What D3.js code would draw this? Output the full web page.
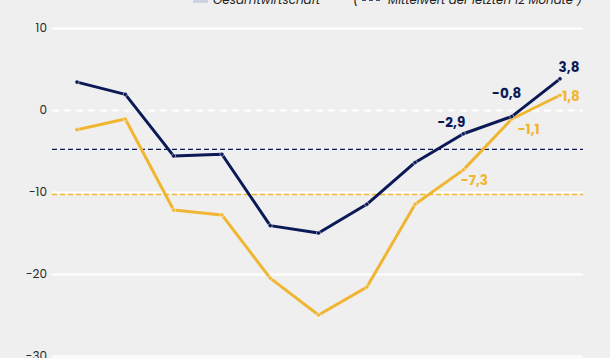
<!DOCTYPE html>
<html><head><meta charset="utf-8">
<script src="https://cdn.jsdelivr.net/npm/d3@7"></script>
<style>
html,body{margin:0;padding:0;background:#efefef;}
svg{display:block;font-family:Poppins,"Inter","Noto Sans",sans-serif;}
</style></head>
<body><svg id="c" width="610" height="358"></svg>
<script>
const categories = ["M1","M2","M3","M4","M5","M6","M7","M8","M9","M10","M11"];
const gesamtwirtschaft = [3.4, 1.9, -5.6, -5.4, -14.1, -15.0, -11.5, -6.4, -2.9, -0.8, 3.8];
const zweiteReihe = [-2.4, -1.1, -12.2, -12.8, -20.5, -25.0, -21.6, -11.5, -7.3, -1.1, 1.8];
const mittelwertBlau = -4.8;
const mittelwertGelb = -10.3;
const yTicks = [10, 0, -10, -20, -30];
const legendLabels = ["Gesamtwirtschaft", "Mittelwert der letzten 12 Monate )"];

const NAVY = "#0b1a57", YELLOW = "#f0b632";
const svg = d3.select("#c");
const x = d3.scalePoint().domain(categories).range([77, 560]);
const y = d3.scaleLinear().domain([-30, 10]).range([356, 28]);
const X0 = 52, X1 = 583;

// grid
const yAxis = d3.axisLeft(y).tickValues(yTicks).tickSize(0).tickPadding(0).tickFormat(d => String(d));
const gAxis = svg.append("g").attr("transform", `translate(${X0},0)`).call(yAxis);
gAxis.select(".domain").remove();
gAxis.selectAll("text").attr("x", -5).attr("font-size", 12).attr("fill", "#2a2a2a")
  .attr("font-family", "Poppins, Inter, 'Noto Sans', sans-serif");
gAxis.selectAll(".tick").append("line")
  .attr("x1", 0).attr("x2", X1 - X0).attr("stroke", "#ffffff").attr("stroke-width", 2.2)
  .attr("stroke-dasharray", d => d === 0 ? "7,5" : null);

// mean lines
svg.append("line").attr("x1", X0).attr("x2", X1).attr("y1", y(mittelwertBlau)).attr("y2", y(mittelwertBlau))
  .attr("stroke", NAVY).attr("stroke-width", 1.4).attr("stroke-dasharray", "5,3");
svg.append("line").attr("x1", X0).attr("x2", X1).attr("y1", y(mittelwertGelb)).attr("y2", y(mittelwertGelb))
  .attr("stroke", YELLOW).attr("stroke-width", 1.4).attr("stroke-dasharray", "5,3");

const line = d3.line().x((d, i) => x(categories[i])).y(d => y(d));
function drawSeries(vals, col) {
  svg.append("path").datum(vals).attr("d", line).attr("fill", "none")
    .attr("stroke", col).attr("stroke-width", 3).attr("stroke-linejoin", "round");
  svg.append("g").selectAll("circle").data(vals).join("circle")
    .attr("cx", (d, i) => x(categories[i])).attr("cy", d => y(d)).attr("r", 2.1)
    .attr("fill", col).attr("stroke", "#ffffff").attr("stroke-width", 0.6).attr("stroke-opacity", 0.8);
}
drawSeries(zweiteReihe, YELLOW);
drawSeries(gesamtwirtschaft, NAVY);

// data labels
const labelsBlue = [{i: 8, dx: -12, dy: -7}, {i: 9, dx: -5, dy: -19}, {i: 10, dx: 9, dy: -7}];
const labelsGelb = [{i: 8, dx: 11, dy: 15}, {i: 9, dx: 17, dy: 15}, {i: 10, dx: 11, dy: 6}];
function drawLabels(vals, cfg, col) {
  svg.append("g").selectAll("text").data(cfg).join("text")
    .attr("x", d => x(categories[d.i]) + d.dx).attr("y", d => y(vals[d.i]) + d.dy)
    .attr("text-anchor", "middle").attr("font-size", 13.5).attr("font-weight", 700)
    .attr("fill", col).text(d => vals[d.i].toFixed(1).replace(".", ","));
}
drawLabels(gesamtwirtschaft, labelsBlue, NAVY);
drawLabels(zweiteReihe, labelsGelb, YELLOW);

// legend (cut off at top, as in the reference)
svg.append("rect").attr("x", 193).attr("y", -6).attr("width", 15).attr("height", 9).attr("fill", "#cfd3df");
svg.append("text").attr("x", 213).attr("y", 4).attr("font-size", 12.5).attr("font-style", "italic")
  .attr("fill", "#222").attr("textLength", 107).attr("lengthAdjust", "spacingAndGlyphs").text(legendLabels[0]);
svg.append("text").attr("x", 353).attr("y", 4).attr("font-size", 12.5).attr("font-style", "italic")
  .attr("fill", "#222").text("(");
svg.append("line").attr("x1", 362).attr("x2", 383).attr("y1", 0).attr("y2", 0)
  .attr("stroke", NAVY).attr("stroke-width", 1.6).attr("stroke-dasharray", "4,3");
svg.append("text").attr("x", 388).attr("y", 4).attr("font-size", 12.5).attr("font-style", "italic")
  .attr("fill", "#222").attr("textLength", 194).attr("lengthAdjust", "spacingAndGlyphs").text(legendLabels[1]);
</script></body></html>
